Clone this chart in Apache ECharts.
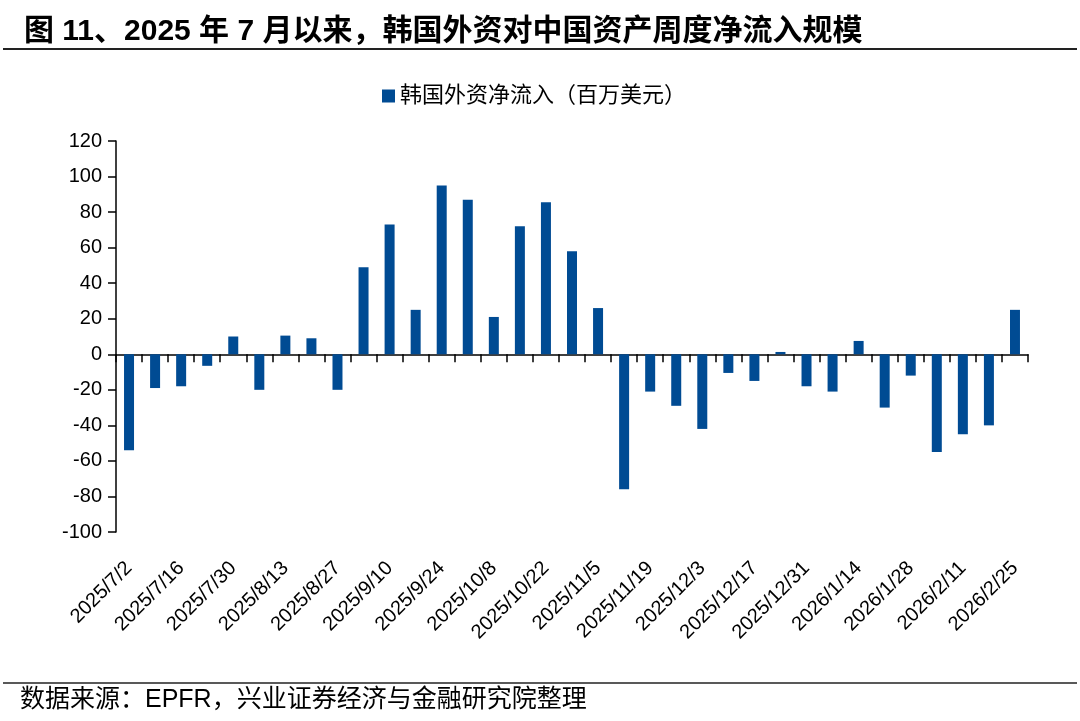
<!DOCTYPE html>
<html>
<head>
<meta charset="utf-8">
<script src="https://cdn.jsdelivr.net/npm/echarts@6/dist/echarts.min.js"></script>
<style>
html,body{margin:0;padding:0;background:#fff;}
#chart{width:1080px;height:721px;}
</style>
</head>
<body>
<div id="chart"></div>
<script>
var categories = ['2025/7/2','2025/7/9','2025/7/16','2025/7/23','2025/7/30','2025/8/6','2025/8/13','2025/8/20','2025/8/27','2025/9/3','2025/9/10','2025/9/17','2025/9/24','2025/10/1','2025/10/8','2025/10/15','2025/10/22','2025/10/29','2025/11/5','2025/11/12','2025/11/19','2025/11/26','2025/12/3','2025/12/10','2025/12/17','2025/12/24','2025/12/31','2026/1/7','2026/1/14','2026/1/21','2026/1/28','2026/2/4','2026/2/11','2026/2/18','2026/2/25'];
var netInflow = [-54,-19,-18,-6.5,10,-20,10.5,9,-20,49,73,25,95,87,21,72,85.5,58,26,-76,-21,-29,-42,-10.5,-15,1.3,-18,-21,7.5,-30,-12,-55,-45,-40,25];
var seriesName = '韩国外资净流入（百万美元）';
var titleText = '图 11、2025 年 7 月以来，韩国外资对中国资产周度净流入规模';
var sourceText = '数据来源：EPFR，兴业证券经济与金融研究院整理';

var FONT = '"Liberation Sans", Arial, "Noto Sans CJK SC", sans-serif';
var chart = echarts.init(document.getElementById('chart'));
chart.setOption({
  animation: false,
  backgroundColor: '#fff',
  title: {
    text: titleText,
    left: 19, top: 12,
    textStyle: {fontFamily: FONT, fontSize: 30, fontWeight: 'bold', color: '#000'}
  },
  legend: {
    data: [seriesName],
    left: 377, top: 80,
    icon: 'rect', itemWidth: 13, itemHeight: 13, itemGap: 8,
    textStyle: {fontFamily: FONT, fontSize: 22, color: '#000'}
  },
  grid: {left: 116, right: 52, top: 141, bottom: 189, containLabel: false},
  xAxis: [{
    type: 'category',
    data: categories,
    position: 'bottom',
    axisLine: {onZero: true, lineStyle: {color: '#000', width: 1.5}},
    axisTick: {show: true, interval: 0, length: 8, inside: false, lineStyle: {color: '#000', width: 1.5}},
    axisLabel: {show: false},
    splitLine: {show: false}
  }, {
    type: 'category',
    data: categories,
    position: 'bottom',
    axisLine: {show: false, onZero: false},
    axisTick: {show: false},
    axisLabel: {show: true, interval: 1, rotate: 45, margin: 33, fontFamily: FONT, fontSize: 20, color: '#000'},
    splitLine: {show: false}
  }],
  yAxis: {
    type: 'value',
    min: -100, max: 120, interval: 20,
    axisLine: {show: true, lineStyle: {color: '#000', width: 1.5}},
    axisTick: {show: true, length: 8, lineStyle: {color: '#000', width: 1.5}},
    axisLabel: {margin: 14, fontFamily: FONT, fontSize: 20, color: '#000'},
    splitLine: {show: false}
  },
  series: [{
    name: seriesName,
    type: 'bar',
    xAxisIndex: 0,
    data: netInflow,
    barWidth: 10,
    itemStyle: {color: '#004B93'}
  }],
  graphic: [
    {type: 'line', shape: {x1: 3, y1: 49, x2: 1077, y2: 49}, style: {stroke: '#222', lineWidth: 2}},
    {type: 'line', shape: {x1: 3, y1: 683, x2: 1077, y2: 683}, style: {stroke: '#222', lineWidth: 1.5}},
    {type: 'text', left: 20, top: 688, style: {text: sourceText, font: '25px ' + FONT, fill: '#000'}}
  ]
});
</script>
</body>
</html>
